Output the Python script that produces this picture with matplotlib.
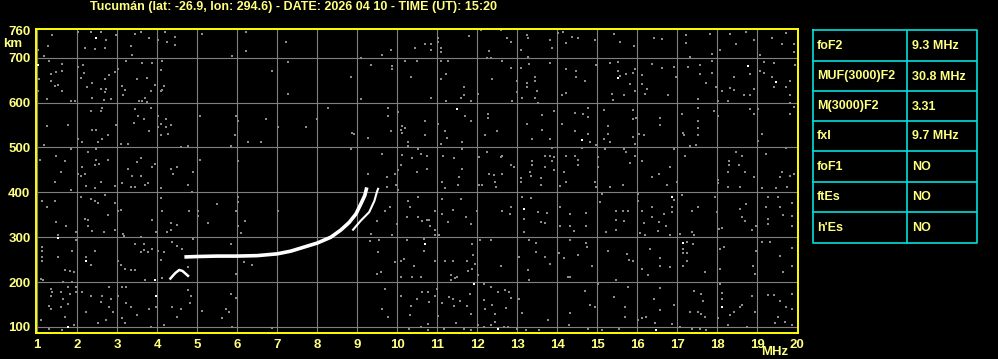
import numpy as np
import matplotlib
matplotlib.use("Agg")
import matplotlib.pyplot as plt

# ionogram title and scaled parameters
TITLE = "Tucumán (lat: -26.9, lon: 294.6) - DATE: 2026 04 10 - TIME (UT): 15:20"
param_names = ["foF2", "MUF(3000)F2", "M(3000)F2", "fxI", "foF1", "ftEs", "h'Es"]
param_values = ["9.3 MHz", "30.8 MHz", "3.31", "9.7 MHz", "NO", "NO", "NO"]

freq_ticks = list(range(1, 21))
height_ticks = [100, 200, 300, 400, 500, 600, 700, 760]

# O-mode F2 trace
o_freq = [4.68, 5.0, 5.5, 6.0, 6.5, 7.0, 7.34, 7.67, 8.0, 8.34, 8.59, 8.8, 8.97, 9.09, 9.19, 9.24]
o_height = [256, 257, 258, 258, 259, 263, 269, 278, 287, 300, 316, 333, 352, 374, 393, 411]
# X-mode F2 trace
x_freq = [8.88, 9.09, 9.3, 9.43, 9.49, 9.53]
x_height = [315, 337, 356, 381, 400, 410]
# small low trace
e_freq = [4.33, 4.45, 4.55, 4.63, 4.77]
e_height = [208, 220, 227, 225, 214]

# speckle noise (freq MHz, height km)
noise = [
    (1.38, 751), (2.03, 757), (2.34, 757), (2.59, 757), (2.73, 740), (2.98, 751), (2.45, 719),
    (2.2, 721), (2.7, 721), (3.44, 753), (3.59, 757), (3.8, 743), (3.34, 726), (3.38, 707),
    (4.03, 740), (4.19, 757), (4.24, 734), (4.44, 747), (4.44, 728), (5.13, 752), (6.23, 757),
    (6.23, 715), (5.88, 704), (7.23, 734), (1.28, 726), (1.03, 717), (1.18, 704), (1.3, 693),
    (1.63, 687), (1.34, 663), (1.48, 669), (1.63, 670), (1.05, 652), (1.34, 648), (1.44, 637),
    (1.53, 639), (1.63, 625), (1.03, 625), (1.24, 607), (1.84, 603), (1.94, 603), (2.03, 680),
    (2.15, 684), (2.18, 666), (2.09, 654), (2.38, 643), (2.24, 634), (2.59, 630), (2.69, 624),
    (2.73, 630), (2.69, 652), (2.8, 661), (2.94, 669), (2.38, 611), (2.68, 605), (2.84, 607),
    (3.03, 674), (3.23, 693), (3.63, 689), (3.88, 689), (3.49, 653), (3.74, 655), (3.12, 637),
    (3.19, 629), (3.15, 616), (3.84, 625), (3.94, 639), (3.55, 604), (3.63, 604), (3.74, 602),
    (3.69, 611), (4.09, 672), (4.13, 693), (4.17, 637), (4.09, 626), (4.13, 629), (6.88, 670),
    (7.28, 691), (7.28, 620), (3.84, 589), (3.45, 585), (3.53, 570), (3.43, 555), (3.68, 563),
    (3.8, 536), (2.34, 581), (2.63, 589), (2.59, 581), (2.98, 551), (2.38, 540), (2.48, 540),
    (2.63, 518), (2.78, 527), (2.03, 518), (2.13, 513), (2.53, 513), (3.09, 508), (3.28, 508),
    (1.24, 547), (1.78, 549), (1.18, 506), (4.03, 570), (4.23, 563), (4.09, 553), (4.03, 545),
    (4.22, 545), (4.34, 549), (4.28, 529), (4.09, 527), (5.08, 571), (5.98, 571), (6.03, 558),
    (6.73, 563), (7.03, 545), (5.94, 527), (5.84, 504), (6.28, 513), (6.59, 513), (4.59, 500),
    (4.78, 504), (1.84, 496), (2.28, 491), (2.48, 496), (1.48, 481), (1.08, 471), (1.69, 469),
    (2.46, 473), (2.54, 464), (2.78, 473), (2.44, 460), (2.13, 456), (1.59, 446), (2.03, 441),
    (2.2, 441), (2.09, 436), (3.49, 467), (3.59, 476), (3.28, 451), (3.36, 437), (3.59, 437),
    (3.88, 456), (3.94, 464), (4.34, 451), (4.49, 456), (4.4, 441), (4.9, 446), (5.08, 473),
    (6.03, 469),
    (9.63, 707), (9.84, 717), (10.44, 721), (10.69, 730), (10.84, 730), (10.84, 717), (11.03, 743),
    (11.03, 734), (11.09, 721), (11.09, 712), (11.8, 749), (12.09, 762), (12.3, 715), (12.59, 762),
    (12.74, 743), (12.84, 734), (13.09, 717), (13.24, 751), (13.28, 743), (13.28, 702), (8.84, 656),
    (9.09, 699), (9.34, 684), (9.88, 682), (9.88, 674), (10.19, 693), (10.49, 693), (10.34, 656),
    (9.09, 607), (11.09, 693), (11.28, 693), (11.23, 663), (11.09, 652), (10.84, 611), (11.23, 603),
    (11.68, 634), (11.68, 616), (11.59, 611), (11.84, 603), (12.03, 620), (12.24, 699), (12.34, 699),
    (12.63, 693), (12.84, 678), (12.38, 652), (12.99, 648), (12.99, 623), (13.09, 678), (13.24, 643),
    (13.24, 634), (13.3, 687), (13.45, 656), (13.45, 648), (13.49, 625), (13.45, 611), (13.13, 611),
    (12.88, 603), (13.53, 598), (8.28, 587), (7.99, 564), (7.72, 545), (8.88, 533), (8.93, 530),
    (9.28, 522), (9.78, 589), (9.78, 570), (10.03, 580), (9.84, 536), (10.13, 548), (10.19, 544),
    (10.09, 540), (10.13, 532), (10.28, 513), (10.28, 503), (10.69, 558), (10.69, 527), (11.03, 553),
    (11.19, 536), (11.24, 522), (11.09, 508), (11.69, 570), (11.84, 558), (11.63, 513), (12.28, 575),
    (12.28, 566), (12.19, 527), (12.49, 536), (13.24, 553), (13.38, 518), (13.63, 573), (13.63, 540),
    (8.84, 496), (9.63, 486), (10.13, 484), (10.38, 476), (10.53, 496), (10.59, 486), (10.74, 482),
    (11.15, 482), (11.43, 477), (11.63, 496), (12.05, 478), (12.24, 491), (12.59, 478), (12.63, 482),
    (12.84, 460), (12.93, 456), (13.38, 469), (13.38, 460), (13.69, 482), (13.69, 456), (10.09, 460),
    (10.03, 449), (10.49, 446), (10.74, 451), (9.28, 441), (9.74, 434), (9.94, 441), (11.55, 434),
    (11.63, 451), (12.3, 441), (12.43, 439), (12.63, 441), (13.09, 431), (13.32, 446), (13.34, 436),
    (13.59, 431),
    (13.83, 740), (13.88, 722), (14.03, 754), (14.14, 757), (14.23, 732), (14.38, 747), (14.53, 743),
    (14.94, 740), (15.43, 752), (15.58, 734), (15.92, 726), (16.43, 743), (16.63, 741), (17.23, 751),
    (17.23, 732), (17.33, 702), (17.83, 752), (17.88, 708), (18.08, 717), (18.33, 752), (18.46, 731),
    (18.73, 757), (18.92, 740), (19.08, 707), (19.38, 743), (19.63, 731), (19.73, 754), (19.92, 731),
    (19.92, 712), (13.81, 689), (14.23, 674), (14.48, 670), (14.48, 656), (14.69, 648), (14.13, 616),
    (14.23, 622), (14.98, 684), (15.33, 689), (15.53, 691), (15.53, 670), (15.58, 659), (15.71, 663),
    (15.89, 667), (15.94, 675), (15.83, 641), (15.38, 620), (15.39, 605), (15.68, 616), (15.94, 625),
    (16.13, 662), (16.38, 687), (16.63, 676), (16.93, 680), (16.97, 658), (16.13, 641), (16.24, 631),
    (16.19, 620), (16.78, 616), (17.28, 680), (17.58, 684), (17.58, 663), (17.73, 644), (17.88, 693),
    (17.88, 665), (17.98, 635), (18.13, 625), (18.33, 633), (18.43, 657), (18.43, 629), (18.68, 616),
    (18.83, 616), (18.82, 663), (18.93, 630), (19.08, 670), (19.18, 691), (19.18, 665), (19.42, 689),
    (19.38, 658), (19.42, 635), (19.73, 635), (19.83, 648), (19.83, 616), (19.94, 684), (17.53, 607),
    (18.03, 603), (18.28, 603), (19.82, 600), (19.92, 590), (14.44, 577), (14.78, 589), (14.64, 574),
    (14.78, 567), (14.13, 552), (13.92, 581), (14.44, 536), (14.61, 499), (14.78, 531), (14.83, 513),
    (14.98, 506), (15.18, 584), (15.28, 548), (15.28, 531), (15.18, 519), (15.33, 513), (15.89, 583),
    (15.89, 563), (15.98, 566), (15.89, 523), (15.94, 508), (16.04, 529), (16.18, 527), (16.58, 566),
    (16.58, 549), (17.13, 574), (17.18, 527), (17.15, 533), (17.33, 504), (17.48, 505), (17.53, 558),
    (17.53, 543), (17.53, 527), (17.53, 587), (17.92, 582), (18.03, 570), (18.83, 585), (18.93, 575),
    (19.03, 585), (19.13, 531), (19.02, 514), (19.83, 575), (19.73, 499), (13.83, 518), (13.88, 499),
    (13.81, 482), (13.92, 478), (13.88, 469), (13.92, 449), (14.23, 482), (14.44, 482), (14.53, 471),
    (14.53, 460), (14.18, 445), (15.03, 478), (15.03, 456), (15.19, 496), (15.68, 496), (15.73, 489),
    (15.94, 482), (15.83, 465), (16.13, 469), (16.38, 434), (16.54, 441), (16.83, 456), (16.93, 496),
    (17.19, 482), (18.03, 428), (18.29, 469), (18.29, 460), (18.28, 445), (18.48, 491), (18.54, 460),
    (18.63, 482), (18.69, 446), (18.93, 434), (19.23, 486), (19.63, 445), (19.83, 437), (19.92, 442),
    (19.57, 434),
    (1.44, 424), (1.84, 405), (2.23, 415), (2.44, 410), (2.59, 422), (2.94, 415), (3.13, 420),
    (3.34, 413), (3.44, 413), (3.69, 417), (3.78, 420), (4.09, 410), (4.78, 417), (4.88, 400),
    (1.13, 381), (1.24, 368), (1.44, 381), (2.09, 390), (2.34, 385), (2.44, 381), (2.51, 376),
    (2.69, 395), (2.94, 376), (2.78, 350), (2.2, 341), (2.28, 339), (2.28, 326), (2.38, 313),
    (2.68, 311), (2.94, 315), (3.03, 359), (3.09, 361), (3.15, 307), (3.18, 302), (1.48, 333),
    (1.53, 304), (1.73, 324), (1.97, 311), (1.97, 294), (3.59, 301), (3.88, 339), (3.98, 311),
    (4.09, 387), (4.13, 359), (4.24, 311), (4.34, 331), (4.49, 328), (4.34, 315), (4.8, 359),
    (5.03, 358), (5.03, 348), (5.28, 331), (5.49, 373), (6.03, 389), (6.03, 378), (5.98, 359),
    (6.09, 309), (6.19, 337), (6.03, 324), (7.03, 359), (4.9, 296), (1.13, 279), (1.13, 269),
    (1.13, 257), (1.13, 248), (1.53, 256), (1.88, 270), (2.21, 257), (2.34, 239), (2.44, 270),
    (3.45, 284), (3.68, 284), (3.68, 272), (3.88, 274), (3.78, 267), (3.59, 267), (4.03, 270),
    (4.16, 267), (4.09, 250), (4.38, 290), (4.5, 280), (4.63, 274), (3.03, 248), (3.09, 239),
    (3.2, 230), (3.34, 226), (3.45, 226), (1.7, 226), (1.83, 224), (1.93, 222), (1.09, 207),
    (1.15, 204), (1.65, 200), (1.88, 200), (3.69, 204), (4.13, 210), (4.78, 233), (5.84, 284),
    (6.18, 244), (6.38, 239), (5.98, 217), (1.34, 185), (1.34, 170), (1.38, 178), (1.59, 178),
    (1.76, 189), (1.83, 174), (1.96, 190), (1.96, 178), (1.65, 163), (1.76, 152), (1.59, 144),
    (1.3, 146), (1.34, 141), (1.09, 116), (1.69, 122), (1.93, 104), (1.3, 96), (1.63, 94),
    (2.13, 178), (2.34, 168), (2.63, 168), (2.79, 190), (2.84, 163), (2.59, 156), (2.79, 144),
    (2.89, 133), (2.71, 116), (2.53, 109), (2.21, 133), (3.13, 190), (3.23, 190), (3.03, 168),
    (3.23, 153), (3.34, 144), (3.13, 119), (3.2, 109), (3.49, 126), (3.79, 141), (3.97, 144),
    (3.84, 100), (4.18, 104), (4.38, 144), (4.59, 141), (4.49, 122), (4.76, 183), (4.84, 168),
    (4.82, 153), (5.13, 136), (5.63, 119), (5.73, 141), (5.79, 133), (5.84, 174), (5.98, 165),
    (5.88, 100), (6.88, 98),
    (9.74, 413), (9.98, 417), (10.03, 405), (10.51, 390), (10.28, 381), (10.33, 368), (9.83, 367),
    (9.69, 359), (9.49, 337), (9.34, 307), (9.33, 291), (9.55, 293), (9.53, 267), (9.88, 306),
    (9.99, 330), (10.24, 346), (10.51, 346), (10.74, 339), (10.8, 339), (10.63, 337), (10.94, 359),
    (10.83, 326), (10.94, 316), (10.94, 304), (11.05, 306), (10.66, 296), (10.66, 270), (10.24, 294),
    (11.13, 422), (11.19, 410), (11.53, 417), (11.59, 385), (11.13, 385), (11.13, 352), (11.39, 361),
    (11.73, 346), (11.26, 333), (11.84, 330), (12.05, 417), (12.13, 417), (12.44, 422), (12.46, 413),
    (12.0, 359), (12.61, 359), (12.84, 368), (12.82, 352), (13.13, 390), (13.34, 387), (13.18, 341),
    (13.18, 311), (13.53, 356), (13.59, 333), (13.09, 424), (13.59, 417), (11.88, 285), (11.9, 261),
    (11.94, 241), (11.74, 248), (11.88, 230), (12.08, 293), (12.34, 293), (12.59, 235), (13.29, 293),
    (13.48, 287), (13.48, 267), (13.05, 257), (13.26, 227), (13.29, 204), (13.69, 257), (10.09, 248),
    (10.18, 252), (10.09, 211), (10.38, 211), (10.59, 211), (10.42, 235), (9.94, 244), (9.59, 222),
    (9.49, 217), (10.95, 248), (11.19, 248), (11.39, 247), (11.76, 224), (11.34, 215), (11.44, 210),
    (11.49, 211), (11.34, 204), (12.01, 215), (12.16, 196), (12.34, 189), (12.51, 178), (12.69, 183),
    (12.79, 178), (9.69, 185), (10.09, 168), (10.49, 163), (10.63, 178), (10.78, 178), (10.79, 156),
    (10.99, 185), (10.94, 168), (11.13, 153), (11.29, 167), (11.39, 163), (11.58, 159), (11.43, 146),
    (11.74, 146), (11.81, 173), (11.84, 130), (12.18, 161), (12.2, 141), (12.38, 148), (12.44, 130),
    (12.72, 143), (12.84, 165), (13.05, 163), (13.13, 131), (9.63, 141), (9.78, 122), (10.34, 146),
    (10.33, 126), (11.03, 124), (10.78, 107), (10.3, 96), (10.59, 99), (10.76, 93), (11.18, 96),
    (11.48, 109), (11.68, 96), (11.84, 93), (12.03, 104), (12.16, 101), (12.34, 104), (12.44, 111),
    (12.68, 101), (12.78, 99), (12.99, 96), (13.22, 94), (13.55, 93),
    (14.08, 415), (14.23, 422), (14.94, 422), (15.33, 413), (15.64, 417), (16.03, 396), (16.03, 380),
    (16.75, 417), (17.0, 422), (16.92, 383), (16.88, 368), (16.88, 356), (17.13, 395), (17.38, 359),
    (17.53, 367), (17.38, 311), (17.42, 306), (18.03, 420), (18.28, 413), (18.58, 413), (19.13, 410),
    (19.48, 410), (19.75, 413), (17.94, 389), (18.0, 356), (18.04, 319), (18.13, 321), (18.58, 363),
    (18.73, 374), (18.63, 346), (18.69, 337), (18.88, 316), (18.96, 324), (19.28, 390), (19.53, 389),
    (19.58, 368), (19.88, 376), (19.88, 348), (19.26, 341), (19.28, 330), (19.64, 350), (19.88, 324),
    (19.21, 368), (13.75, 353), (13.7, 331), (14.08, 367), (14.08, 326), (14.33, 352), (14.33, 324),
    (14.42, 313), (14.73, 353), (14.73, 326), (14.96, 411), (15.13, 396), (15.08, 378), (15.23, 311),
    (15.48, 359), (15.48, 339), (15.48, 315), (15.64, 359), (15.78, 359), (15.66, 337), (16.13, 359),
    (16.38, 368), (16.38, 346), (16.18, 331), (16.54, 333), (16.53, 313), (16.67, 352), (16.73, 324),
    (16.83, 306), (16.07, 309), (16.19, 304), (17.08, 307), (14.33, 293), (14.71, 287), (14.75, 278),
    (14.04, 264), (14.18, 254), (14.53, 261), (14.88, 237), (15.28, 270), (15.75, 263), (15.79, 250),
    (15.89, 248), (16.33, 274), (16.58, 254), (16.58, 235), (16.83, 233), (16.13, 230), (16.28, 215),
    (17.15, 274), (17.15, 264), (17.25, 289), (17.25, 264), (17.25, 248), (17.39, 285), (17.15, 235),
    (17.69, 222), (18.08, 274), (18.18, 278), (18.08, 230), (18.98, 270), (18.89, 235), (18.94, 217),
    (19.13, 289), (19.33, 289), (19.58, 259), (19.88, 276), (19.64, 222), (19.88, 237), (13.81, 241),
    (14.33, 211), (14.28, 211), (15.46, 204), (15.78, 190), (15.03, 195), (14.69, 181), (15.43, 167),
    (14.83, 148), (14.94, 144), (14.33, 131), (13.78, 115), (14.29, 104), (14.78, 96), (15.13, 94),
    (15.54, 96), (15.69, 144), (15.69, 122), (16.03, 115), (16.12, 121), (16.21, 122), (16.44, 109),
    (16.58, 137), (16.58, 187), (16.42, 163), (16.93, 150), (16.88, 107), (17.08, 100), (17.32, 133),
    (17.53, 133), (17.59, 130), (17.69, 122), (17.42, 181), (17.59, 174), (17.64, 158), (17.38, 96),
    (17.56, 96), (17.71, 94), (18.03, 119), (18.13, 163), (18.33, 126), (18.28, 104), (18.43, 133),
    (18.58, 144), (18.63, 150), (18.88, 170), (18.94, 133), (18.75, 101), (19.28, 172), (19.42, 172),
    (19.58, 158), (19.71, 144), (19.88, 141), (19.53, 122), (19.69, 111), (19.88, 104), (19.44, 109),
    (19.88, 174), (18.08, 196), (18.13, 175),
]
# brighter (white) speckles
bright = [
    (2.48, 743), (1.03, 684), (11.49, 585), (15.53, 654), (18.78, 682), (19.48, 646), (14.63, 516),
    (1.53, 299), (2.23, 246), (3.94, 205), (1.78, 101), (3.97, 170), (10.69, 285), (11.91, 195),
    (13.18, 364), (12.51, 96), (17.15, 287), (16.88, 390), (18.13, 144), (16.48, 93),
]

W, H, DPI = 998, 359, 100
YELLOW = "#ffff80"
FONT = "Liberation Sans"

fig = plt.figure(figsize=(W / DPI, H / DPI), dpi=DPI, facecolor="black")

# main ionogram axes, placed in pixel units
ax = fig.add_axes([36 / W, 1 - 333 / H, (798 - 36) / W, (333 - 29) / H], facecolor="black")
ax.set_xlim(0.97, 20.02)
ax.set_ylim(86.6, 764)

for f in freq_ticks[:-1]:
    ax.axvline(f, color="#808080", lw=0.8, zorder=1)
for h in height_ticks[:-1]:
    ax.axhline(h, color="#808080", lw=0.8, zorder=1)

nz = np.array(noise)
ax.scatter(nz[:, 0], nz[:, 1], s=3.6, marker="s", color="#8c8c8c", linewidths=0, zorder=2)
br = np.array(bright)
ax.scatter(br[:, 0], br[:, 1], s=3.6, marker="s", color="white", linewidths=0, zorder=3)

ax.plot(o_freq, o_height, color="white", lw=2.6, solid_capstyle="butt", zorder=4)
ax.plot(x_freq, x_height, color="white", lw=1.5, solid_capstyle="butt", zorder=4)
ax.plot(e_freq, e_height, color="white", lw=1.8, zorder=4)

ax.set_xticks(freq_ticks)
ax.set_yticks(height_ticks)
ax.set_xticklabels([str(f) for f in freq_ticks])
ax.set_yticklabels([str(h) for h in height_ticks])
ax.tick_params(length=0, colors=YELLOW, labelsize=9.5, pad=4)
for lab in ax.get_xticklabels() + ax.get_yticklabels():
    lab.set_fontfamily(FONT)
    lab.set_fontweight("bold")
for sp in ax.spines.values():
    sp.set_color("#ffff00")
    sp.set_linewidth(1.4)

fig.text(13 / W, 1 - 44 / H, "km", color=YELLOW, fontsize=9.5, fontweight="bold",
         family=FONT, ha="center", va="center")
fig.text(788 / W, 1 - 352 / H, "MHz", color=YELLOW, fontsize=9.5, fontweight="bold",
         family=FONT, ha="right", va="center")
fig.text(90 / W, 1 - 7 / H, TITLE, color=YELLOW, fontsize=9, fontweight="bold",
         family=FONT, ha="left", va="center")

# parameter table on the right
tx = fig.add_axes([812 / W, 1 - 244 / H, (977 - 812) / W, (244 - 30) / H], facecolor="black")
tx.set_xlim(812, 977)
tx.set_ylim(244, 30)
tx.set_axis_off()
row_edges = [30, 61.5, 91.5, 121.5, 151.5, 182, 212, 243.5]
CYAN = "#00e0e0"
tx.plot([812.5, 976.5, 976.5, 812.5, 812.5], [30.5, 30.5, 243.5, 243.5, 30.5], color=CYAN, lw=1.2,
        clip_on=False)
for y in row_edges[1:-1]:
    tx.plot([812.5, 976.5], [y, y], color=CYAN, lw=1.2)
tx.plot([907, 907], [30.5, 243.5], color=CYAN, lw=1.2)
for i, (name, val) in enumerate(zip(param_names, param_values)):
    yc = (row_edges[i] + row_edges[i + 1]) / 2
    tx.text(817, yc, name, color=YELLOW, fontsize=9, fontweight="bold", family=FONT,
            ha="left", va="center")
    tx.text(912, yc, val, color=YELLOW, fontsize=9, fontweight="bold", family=FONT,
            ha="left", va="center")

fig.savefig("out.png", dpi=DPI, facecolor="black")
